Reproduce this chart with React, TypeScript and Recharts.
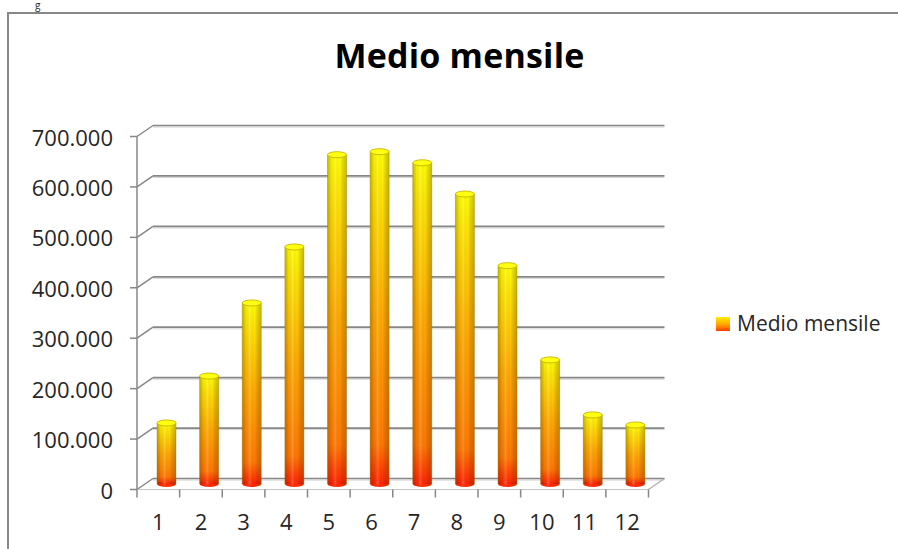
import React from 'react';
import { BarChart, Bar, XAxis, YAxis, CartesianGrid } from 'recharts';

const chartTitle = 'Medio mensile';
const seriesName = 'Medio mensile';
const months = ['1', '2', '3', '4', '5', '6', '7', '8', '9', '10', '11', '12'];
const medioMensile = [121000, 214000, 359000, 470000, 653000, 659000, 637000, 575000, 433000, 246000, 137000, 117000];
const yTicks = [0, 100000, 200000, 300000, 400000, 500000, 600000, 700000];

const data = months.map((m, i) => ({ month: m, value: medioMensile[i] }));

const W = 898;
const H = 549;
const MARGIN = { top: 131, right: 241.5, bottom: 35, left: 85 };
const Y_AXIS_W = 60;
const X_AXIS_H = 30;
const PLOT_LEFT = MARGIN.left + Y_AXIS_W;
const PLOT_RIGHT = W - MARGIN.right;
const PLOT_TOP = MARGIN.top;
const PLOT_BOTTOM = H - MARGIN.bottom - X_AXIS_H;
const DX = 8;
const DY = 5.5;
const BAND = (PLOT_RIGHT - PLOT_LEFT) / months.length;
const AXIS_GRAY = '#878787';
const FONT = '"Open Sans", sans-serif';

const fmt = (v: number) => String(v).replace(/\B(?=(\d{3})+(?!\d))/g, '.');

const gridLine = (p: any) => {
  const { x1, x2, y1, index } = p;
  const isBottom = Math.abs(y1 - PLOT_BOTTOM) < 1;
  const isTop = Math.abs(y1 - PLOT_TOP) < 1;
  return (
    <g key={`g-${index}`}>
      <line x1={x1 + DX} x2={x2 + DX} y1={y1 - DY + 1.6} y2={y1 - DY + 1.6} stroke="#d6d6d6" strokeWidth={1} />
      <line x1={x1 + DX} x2={x2 + DX} y1={y1 - DY} y2={y1 - DY} stroke={AXIS_GRAY} strokeWidth={1.7} />
      <line x1={x1 - DX} y1={y1 + DY} x2={x1 + DX} y2={y1 - DY} stroke={AXIS_GRAY} strokeWidth={1.5} />
      <line x1={x1 - DX - 7} y1={y1 + DY} x2={x1 - DX} y2={y1 + DY} stroke={AXIS_GRAY} strokeWidth={1.5} />
      {isBottom && (
        <g>
          <line x1={x1 - DX} x2={x2 - DX} y1={y1 + DY} y2={y1 + DY} stroke="#c4c4c4" strokeWidth={1.2} />
          <line x1={x2 - DX} y1={y1 + DY} x2={x2 + DX} y2={y1 - DY} stroke="#b0b0b0" strokeWidth={1.3} />
        </g>
      )}
      {isTop && (
        <line x1={x1 - DX} x2={x1 - DX} y1={y1 + DY} y2={PLOT_BOTTOM + DY} stroke={AXIS_GRAY} strokeWidth={1.5} />
      )}
    </g>
  );
};

const YTick = (p: any) => {
  const { y, payload } = p;
  return (
    <text x={113} y={y + DY + 9} textAnchor="end" fontFamily={FONT} fontSize={22} fill="#262626">
      {fmt(payload.value)}
    </text>
  );
};

const XTick = (p: any) => {
  const { x, payload, index } = p;
  const fx = x - DX;
  const fy = PLOT_BOTTOM + DY;
  return (
    <g>
      <line x1={fx - BAND / 2} x2={fx - BAND / 2} y1={fy} y2={fy + 8} stroke={AXIS_GRAY} strokeWidth={1.5} />
      {index === months.length - 1 && (
        <line x1={fx + BAND / 2} x2={fx + BAND / 2} y1={fy} y2={fy + 8} stroke={AXIS_GRAY} strokeWidth={1.5} />
      )}
      <text x={fx} y={530} textAnchor="middle" fontFamily={FONT} fontSize={22} fill="#262626">
        {payload.value}
      </text>
    </g>
  );
};

const Cylinder = (p: any) => {
  const { x, y, width, height } = p;
  if (!height || height <= 0) return null;
  const rx = width / 2;
  const ry = 3;
  const cx = x + rx;
  return (
    <g>
      <ellipse cx={cx} cy={y + height} rx={rx} ry={ry} fill="#ff2a00" />
      <rect x={x} y={y} width={width} height={height} fill="url(#barGrad)" />
      <rect x={x} y={y} width={width} height={height} fill="url(#barShade)" />
      <ellipse cx={cx} cy={y + height} rx={rx} ry={ry} fill="url(#barShade)" opacity={0.6} />
      <line x1={x} x2={x} y1={y} y2={y + height} stroke="rgba(140,100,0,0.35)" strokeWidth={1} />
      <line x1={x + width} x2={x + width} y1={y} y2={y + height} stroke="rgba(140,100,0,0.35)" strokeWidth={1} />
      <ellipse cx={cx} cy={y} rx={rx} ry={ry} fill="#ffff10" stroke="#c9b200" strokeWidth={0.9} />
    </g>
  );
};

export default function App() {
  return (
    <div style={{ position: 'absolute', left: 0, top: 0, width: W, height: H, overflow: 'hidden', background: '#fff' }}>
      <div
        style={{
          position: 'absolute',
          left: 35,
          top: 0,
          fontFamily: FONT,
          fontSize: 10,
          lineHeight: '10px',
          color: '#262626',
        }}
      >
        g
      </div>
      <div
        style={{
          position: 'absolute',
          left: 7,
          top: 12,
          width: W,
          height: H,
          borderLeft: `2px solid ${AXIS_GRAY}`,
          borderTop: `2px solid ${AXIS_GRAY}`,
        }}
      />
      <div
        style={{
          position: 'absolute',
          left: 259.5,
          top: 31.5,
          width: 400,
          textAlign: 'center',
          fontFamily: FONT,
          fontWeight: 700,
          fontSize: 34,
          letterSpacing: 0.2,
          color: '#000',
          whiteSpace: 'nowrap',
        }}
      >
        {chartTitle}
      </div>
      <div style={{ position: 'absolute', left: 0, top: 0 }}>
        <BarChart width={W} height={H} data={data} margin={MARGIN}>
          <defs>
            <linearGradient id="barGrad" x1="0" y1="0" x2="0" y2="1">
              <stop offset="0" stopColor="#ffff00" />
              <stop offset="0.12" stopColor="#ffe600" />
              <stop offset="0.5" stopColor="#ffa800" />
              <stop offset="0.88" stopColor="#ff7800" />
              <stop offset="1" stopColor="#ff2200" />
            </linearGradient>
            <linearGradient id="barShade" x1="0" y1="0" x2="1" y2="0">
              <stop offset="0" stopColor="#6b4a00" stopOpacity={0.35} />
              <stop offset="0.2" stopColor="#000000" stopOpacity={0.05} />
              <stop offset="0.4" stopColor="#ffffff" stopOpacity={0.15} />
              <stop offset="0.65" stopColor="#000000" stopOpacity={0} />
              <stop offset="1" stopColor="#6b4a00" stopOpacity={0.35} />
            </linearGradient>
          </defs>
          <CartesianGrid horizontal={gridLine} vertical={false} />
          <XAxis
            dataKey="month"
            height={X_AXIS_H}
            axisLine={false}
            tickLine={false}
            interval={0}
            tick={<XTick />}
          />
          <YAxis
            width={Y_AXIS_W}
            domain={[0, 700000]}
            ticks={yTicks}
            axisLine={false}
            tickLine={false}
            tick={<YTick />}
          />
          <Bar dataKey="value" name={seriesName} barSize={19} shape={<Cylinder />} isAnimationActive={false} />
        </BarChart>
      </div>
      <div
        style={{
          position: 'absolute',
          left: 716,
          top: 317,
          width: 14,
          height: 14,
          background: 'linear-gradient(#ffee00, #ff9a00 60%, #ff3a00)',
        }}
      />
      <div
        style={{
          position: 'absolute',
          left: 737,
          top: 309,
          fontFamily: FONT,
          fontSize: 21,
          color: '#262626',
          whiteSpace: 'nowrap',
        }}
      >
        {seriesName}
      </div>
    </div>
  );
}
